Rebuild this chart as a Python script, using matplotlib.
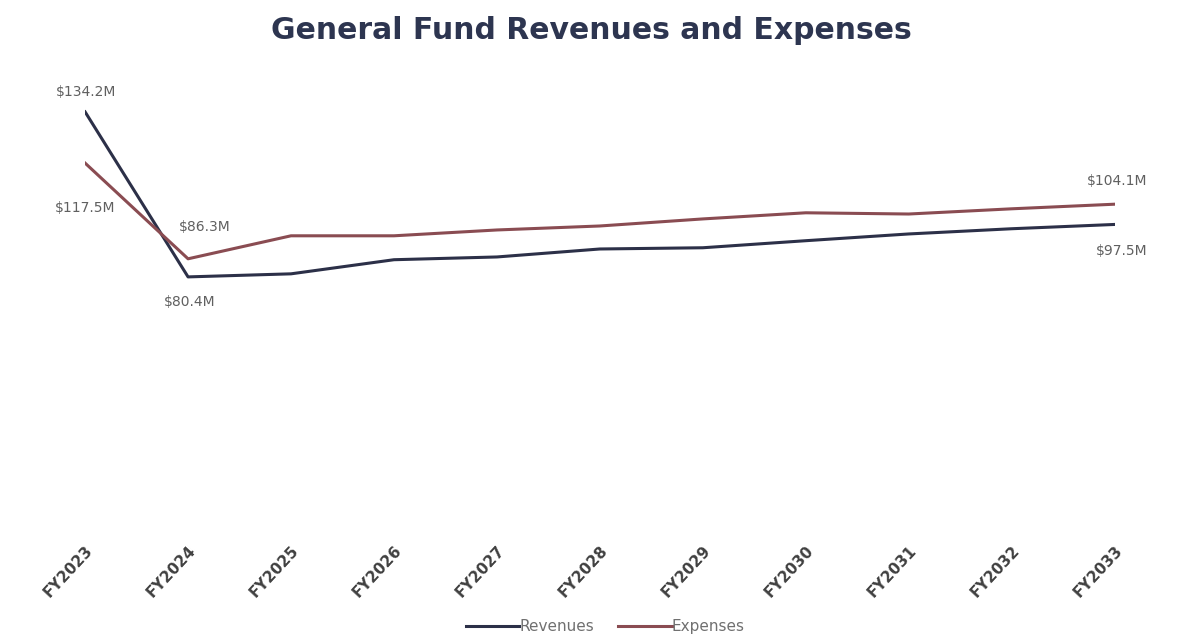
import matplotlib
matplotlib.use("Agg")
import matplotlib.pyplot as plt

# fiscal years and general fund totals, $M
years = ["FY2023", "FY2024", "FY2025", "FY2026", "FY2027", "FY2028",
         "FY2029", "FY2030", "FY2031", "FY2032", "FY2033"]
revenues = [134.2, 80.4, 81.4, 86.0, 86.9, 89.5, 89.9, 92.2, 94.4, 96.1, 97.5]
expenses = [117.5, 86.3, 93.8, 93.8, 95.7, 97.0, 99.3, 101.3, 100.9, 102.6, 104.1]

REV_COLOR = "#2c3048"
EXP_COLOR = "#8a4c52"
TEXT_COLOR = "#606060"

fig = plt.figure(figsize=(11.82, 6.4), dpi=100)
ax = fig.add_axes([0.072, 0.182, 0.871, 0.671])

x = range(len(years))
ax.plot(x, revenues, color=REV_COLOR, lw=2.2, label="Revenues")
ax.plot(x, expenses, color=EXP_COLOR, lw=2.2, label="Expenses")

ax.set_xlim(0, len(years) - 1)
ax.set_ylim(0, 140)


def label(i, vals, dx, dy):
    ax.annotate(f"${vals[i]:.1f}M", (i, vals[i]), xytext=(dx, dy),
                textcoords="offset points", ha="center", va="center",
                fontsize=10, color=TEXT_COLOR)


label(0, revenues, 1, 14)
label(0, expenses, 0, -32)
label(1, expenses, 12, 23)
label(1, revenues, 1, -18)
label(10, expenses, 2, 17)
label(10, revenues, 5, -19)

ax.set_xticks(list(x))
ax.set_xticklabels(years, rotation=47, ha="right", rotation_mode="anchor",
                   fontsize=11, color="#404040", fontweight="bold")
ax.tick_params(axis="x", length=0, pad=14)
ax.set_yticks([])
for s in ax.spines.values():
    s.set_visible(False)

fig.suptitle("General Fund Revenues and Expenses", y=0.975, fontsize=21.5,
             fontweight="bold", color="#2d3550", family="DejaVu Sans")

fig.legend(loc="lower center", bbox_to_anchor=(0.512, -0.012), ncol=2,
           frameon=False, fontsize=11, handlelength=3.5, handletextpad=0.0,
           columnspacing=1.6, labelcolor="#707070")

fig.savefig("out.png", dpi=100)
